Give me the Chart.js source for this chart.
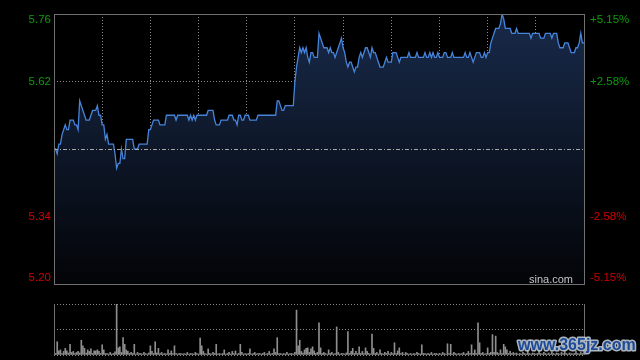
<!DOCTYPE html>
<html>
<head>
<meta charset="utf-8">
<script src="https://cdn.jsdelivr.net/npm/chart.js@4.4.1/dist/chart.umd.min.js"></script>
<style>
  body { margin: 0; background: #000; }
  #wrap { position: relative; width: 640px; height: 360px; background: #000; }
  #wrap canvas { position: absolute; left: 0; }
</style>
</head>
<body>
<div id="wrap">
  <canvas id="price_chart" width="640" height="300" style="top:0"></canvas>
  <canvas id="volume_chart" width="640" height="60" style="top:300px"></canvas>
</div>
<script>
// one value per minute, 09:30-12:00 then 13:00-16:00
var prices =
[
  5.48,5.48,5.47,5.49,5.49,5.51,5.52,5.53,5.52,5.52,
  5.54,5.54,5.54,5.53,5.53,5.52,5.58,5.57,5.56,5.55,
  5.54,5.54,5.54,5.55,5.56,5.56,5.56,5.57,5.55,5.55,
  5.53,5.53,5.50,5.51,5.49,5.49,5.49,5.49,5.47,5.44,
  5.45,5.45,5.48,5.46,5.46,5.50,5.50,5.50,5.50,5.50,
  5.48,5.48,5.48,5.49,5.49,5.49,5.49,5.49,5.49,5.52,
  5.52,5.53,5.54,5.54,5.54,5.54,5.53,5.53,5.53,5.53,
  5.55,5.55,5.55,5.55,5.55,5.55,5.54,5.55,5.55,5.55,
  5.55,5.55,5.55,5.55,5.54,5.55,5.54,5.55,5.54,5.55,
  5.55,5.55,5.55,5.55,5.55,5.55,5.56,5.56,5.56,5.56,
  5.54,5.53,5.53,5.53,5.54,5.54,5.54,5.54,5.54,5.55,
  5.55,5.55,5.54,5.54,5.53,5.55,5.55,5.54,5.54,5.55,
  5.55,5.55,5.54,5.54,5.54,5.54,5.54,5.55,5.55,5.55,
  5.55,5.55,5.55,5.55,5.55,5.55,5.55,5.55,5.55,5.58,
  5.58,5.57,5.56,5.56,5.57,5.57,5.57,5.57,5.57,5.57,
  5.62,5.65,5.67,5.69,5.68,5.69,5.68,5.69,5.67,5.66,
  5.68,5.68,5.67,5.67,5.67,5.72,5.71,5.70,5.69,5.69,
  5.69,5.68,5.69,5.68,5.68,5.67,5.68,5.69,5.70,5.71,
  5.69,5.68,5.66,5.65,5.66,5.66,5.65,5.64,5.65,5.65,
  5.67,5.68,5.67,5.68,5.69,5.69,5.68,5.67,5.69,5.68,
  5.68,5.67,5.66,5.65,5.65,5.65,5.66,5.67,5.66,5.66,
  5.66,5.68,5.68,5.68,5.67,5.66,5.67,5.67,5.67,5.67,
  5.67,5.68,5.67,5.67,5.67,5.67,5.68,5.67,5.67,5.67,
  5.67,5.68,5.67,5.67,5.68,5.67,5.68,5.67,5.67,5.68,
  5.67,5.67,5.67,5.68,5.68,5.67,5.67,5.67,5.68,5.67,
  5.67,5.67,5.67,5.67,5.67,5.67,5.68,5.67,5.67,5.68,
  5.67,5.66,5.67,5.68,5.68,5.68,5.67,5.67,5.68,5.67,
  5.68,5.68,5.70,5.71,5.72,5.73,5.73,5.73,5.74,5.76,
  5.75,5.73,5.73,5.73,5.73,5.72,5.72,5.72,5.73,5.72,
  5.72,5.72,5.72,5.72,5.72,5.72,5.72,5.71,5.72,5.72,
  5.72,5.72,5.72,5.71,5.71,5.71,5.72,5.72,5.72,5.72,
  5.71,5.72,5.72,5.72,5.70,5.69,5.69,5.69,5.70,5.70,
  5.70,5.69,5.68,5.68,5.68,5.69,5.69,5.70,5.72,5.70,
  5.70
];

// volume per minute (relative units, the tallest bar = 100)
var volumes =
[
  20,3,26,8,10,3,7,13,8,4,
  21,5,7,3,5,7,4,29,18,13,
  4,10,7,12,3,8,8,10,7,3,
  20,10,3,3,2,5,2,3,6,100,
  14,16,5,34,21,10,7,3,5,3,
  21,2,5,3,3,2,5,3,2,4,
  18,7,3,26,4,13,3,5,2,3,
  2,10,3,8,3,18,3,2,3,3,
  2,3,2,5,2,3,3,2,5,3,
  2,33,18,7,3,2,12,3,2,5,
  3,21,2,3,2,3,10,2,3,5,
  2,7,3,8,2,3,21,5,2,3,
  2,3,12,2,3,5,2,3,3,2,
  3,5,2,3,7,2,3,12,5,34,
  3,3,2,3,2,5,2,3,3,2,
  5,88,18,29,7,4,10,13,14,5,
  12,16,8,3,5,63,14,3,5,3,
  2,10,3,5,2,3,55,5,2,3,
  3,2,4,46,3,7,13,3,7,3,
  16,3,7,3,14,7,3,2,41,13,
  3,5,2,10,3,2,5,3,7,2,
  5,3,24,3,8,14,3,5,2,5,
  3,2,3,2,3,2,5,3,2,20,
  3,3,2,3,2,5,2,3,3,2,
  3,2,5,3,2,22,3,21,2,5,
  3,2,3,2,3,5,2,3,7,3,
  20,3,10,3,63,24,3,5,2,3,
  14,3,5,40,5,37,5,3,10,3,
  21,16,10,3,7,3,5,3,4,2,
  3,2,5,3,2,9,3,2,4,3,
  2,3,12,3,2,5,3,2,4,2,
  6,3,2,4,3,2,5,3,14,3,
  2,4,3,2,3,8,3,2,5,3,
  10
];

var prevClose = 5.48;
var priceTicks = [5.20, 5.34, 5.48, 5.62, 5.76];
var priceLabels = ['5.20', '5.34', '', '5.62', '5.76'];
var pctLabels = ['-5.15%', '-2.58%', '', '+2.58%', '+5.15%'];
var lastMinute = 330;
var minuteStep = 30;   // a grid line every half hour
var volumeMax = 100;

var gridColor = '#8a8a8a';
var boxColor = '#707070';
var upColor = '#0b9c0b';
var downColor = '#d20000';

function zeroSize(scale)
{
  if (scale.isHorizontal()) scale.height = 0;
  else scale.width = 0;
}

// edges of the box are drawn by the plugins, so hide grid lines on them
function innerGrid(ctx)
{
  var n = ctx.scale.ticks.length;
  if (ctx.index == 0 || ctx.index == n - 1) return 'rgba(0,0,0,0)';
  return gridColor;
}

var priceDecor =
{
  id: 'priceDecor',
  afterDatasetsDraw: function(chart)
  {
    // dash-dot line at previous close, visible over the fill
    var ctx = chart.ctx;
    var area = chart.chartArea;
    var y = Math.round(chart.scales.y.getPixelForValue(prevClose)) + 0.5;
    ctx.save();
    ctx.strokeStyle = '#a8a8a8';
    ctx.lineWidth = 1;
    ctx.setLineDash([4, 2, 1, 2]);
    ctx.beginPath();
    ctx.moveTo(area.left, y);
    ctx.lineTo(area.right, y);
    ctx.stroke();
    ctx.restore();
  },
  afterDraw: function(chart)
  {
    var ctx = chart.ctx;
    var area = chart.chartArea;
    var yScale = chart.scales.y;
    ctx.save();
    ctx.strokeStyle = boxColor;
    ctx.lineWidth = 1;
    ctx.strokeRect(area.left + 0.5, area.top + 0.5, area.right - area.left, area.bottom - area.top);

    ctx.font = '11.5px Arial, "Liberation Sans", sans-serif';
    ctx.textBaseline = 'middle';
    for (var i = 0; i < priceTicks.length; i++)
    {
      if (!priceLabels[i]) continue;
      var y = yScale.getPixelForValue(priceTicks[i]);
      if (i == 0) y -= 6;
      if (i == priceTicks.length - 1) y += 6;
      ctx.fillStyle = priceTicks[i] > prevClose ? upColor : downColor;
      ctx.textAlign = 'right';
      ctx.fillText(priceLabels[i], area.left - 3, y);
      ctx.textAlign = 'left';
      ctx.fillText(pctLabels[i], area.right + 6, y);
    }

    ctx.font = '11px Arial, "Liberation Sans", sans-serif';
    ctx.fillStyle = '#c4c4c4';
    ctx.textAlign = 'right';
    ctx.textBaseline = 'alphabetic';
    ctx.fillText('sina.com', area.right - 11, area.bottom - 1);
    ctx.restore();
  }
};

var volumeDecor =
{
  id: 'volumeDecor',
  afterDraw: function(chart)
  {
    var ctx = chart.ctx;
    var area = chart.chartArea;
    ctx.save();
    ctx.strokeStyle = boxColor;
    ctx.lineWidth = 1;
    ctx.beginPath();
    ctx.moveTo(area.left + 0.5, area.top);
    ctx.lineTo(area.left + 0.5, area.bottom);
    ctx.moveTo(area.right + 0.5, area.top);
    ctx.lineTo(area.right + 0.5, area.bottom);
    ctx.stroke();

    // site watermark over the bottom right corner
    ctx.font = 'bold 16px Arial, "Liberation Sans", sans-serif';
    ctx.textAlign = 'left';
    ctx.textBaseline = 'alphabetic';
    ctx.lineJoin = 'round';
    ctx.lineWidth = 3;
    ctx.strokeStyle = 'rgba(190,198,210,0.9)';
    ctx.strokeText('www.365jz.com', 518, 50);
    ctx.fillStyle = '#1d4b98';
    ctx.fillText('www.365jz.com', 518, 50);
    ctx.restore();
  }
};

var priceData = prices.map(function(p, i) { return { x: i, y: p }; });
var volumeData = volumes.map(function(v, i) { return { x: i, y: v }; });

var priceChart = new Chart(document.getElementById('price_chart').getContext('2d'),
{
  type: 'line',
  data:
  {
    datasets:
    [{
      data: priceData,
      borderColor: '#4684dc',
      borderWidth: 1.3,
      pointRadius: 0,
      tension: 0,
      fill: 'start',
      backgroundColor: function(context)
      {
        var area = context.chart.chartArea;
        if (!area) return 'rgba(20,35,60,1)';
        var g = context.chart.ctx.createLinearGradient(0, area.top, 0, area.bottom);
        g.addColorStop(0, 'rgb(24,42,74)');
        g.addColorStop(1, 'rgb(3,4,7)');
        return g;
      }
    }]
  },
  options:
  {
    responsive: false,
    animation: false,
    devicePixelRatio: 1,
    events: [],
    layout: { padding: { left: 54, right: 56, top: 14, bottom: 16 } },
    plugins: { legend: { display: false }, tooltip: { enabled: false } },
    scales:
    {
      x:
      {
        type: 'linear',
        min: 0,
        max: lastMinute,
        z: 1,
        afterFit: zeroSize,
        ticks: { display: false, stepSize: minuteStep, autoSkip: false },
        grid: { color: innerGrid, lineWidth: 1, drawTicks: false },
        border: { display: false, dash: [1, 2] }
      },
      y:
      {
        min: priceTicks[0],
        max: priceTicks[priceTicks.length - 1],
        z: 1,
        afterFit: zeroSize,
        ticks: { display: false, stepSize: priceTicks[1] - priceTicks[0] },
        grid:
        {
          drawTicks: false,
          color: function(ctx)
          {
            // the prev-close line gets its own dash-dot style
            if (ctx.index == 2) return 'rgba(0,0,0,0)';
            return innerGrid(ctx);
          }
        },
        border: { display: false, dash: [1, 2] }
      }
    }
  },
  plugins: [priceDecor]
});

var volumeChart = new Chart(document.getElementById('volume_chart').getContext('2d'),
{
  type: 'bar',
  data:
  {
    datasets:
    [{
      data: volumeData,
      backgroundColor: '#8e8e8e',
      borderWidth: 0,
      barThickness: 1
    }]
  },
  options:
  {
    responsive: false,
    animation: false,
    devicePixelRatio: 1,
    events: [],
    layout: { padding: { left: 54, right: 56, top: 4, bottom: 5 } },
    plugins: { legend: { display: false }, tooltip: { enabled: false } },
    scales:
    {
      x:
      {
        type: 'linear',
        min: 0,
        max: lastMinute,
        offset: false,
        afterFit: zeroSize,
        ticks: { display: false },
        grid: { display: false, offset: false },
        border: { display: false }
      },
      y:
      {
        min: 0,
        max: volumeMax,
        afterFit: zeroSize,
        ticks: { display: false, stepSize: volumeMax / 2 },
        grid: { color: gridColor, drawTicks: false },
        border: { display: false, dash: [1, 2] }
      }
    }
  },
  plugins: [volumeDecor]
});
</script>
</body>
</html>
